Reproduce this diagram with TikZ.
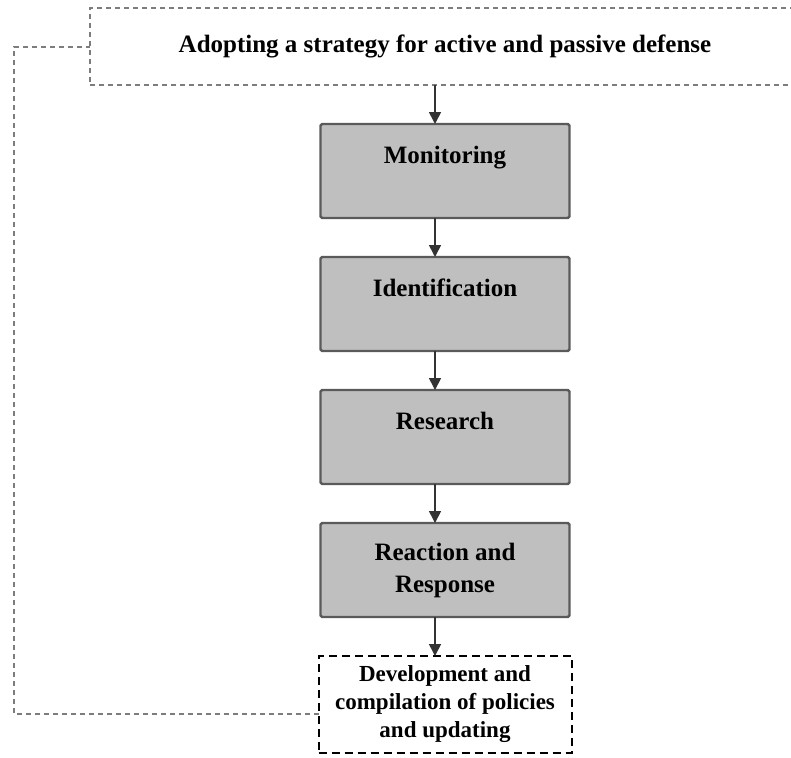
\documentclass[tikz,border=0pt]{standalone}
\usepackage{fontspec}
\setmainfont{Liberation Serif}
\usetikzlibrary{positioning,arrows.meta}

\definecolor{boxgray}{RGB}{191,191,191}
\definecolor{edgegray}{RGB}{90,90,90}
\definecolor{dashgray}{RGB}{125,125,125}

\tikzset{
  stage/.style={rectangle, draw=edgegray, line width=1.2pt, fill=boxgray, rounded corners=0.8pt, outer sep=0pt, text centered, align=center, minimum width=124.5pt, minimum height=47pt, font=\bfseries\fontsize{12.5}{16}\selectfont},
  outlined/.style={draw=dashgray, line width=1pt, dash pattern=on 2.5pt off 2pt},
  flow/.style={->, line width=0.8pt, draw=black!80}
}

\begin{document}
\begin{tikzpicture}[x=0.5pt, y=0.5pt, node distance=19.5pt, >={Triangle[length=6pt,width=6pt]}]

    \useasboundingbox (0,0) rectangle (791,-757);
    \clip (0,0) rectangle (791,-757);

    % Strategy box at the top (runs past the right edge)
    \node (strategy) [rectangle, outlined, outer sep=0pt, minimum width=355pt, minimum height=38.5pt, font=\bfseries\fontsize{12.5}{16}\selectfont] at (445,-46.5) {\raisebox{3.25pt}{Adopting a strategy for active and passive defense}};

    % The four stages
    \node (monitor) [stage, below=of strategy] {Monitoring\\\mbox{}};
    \node (ident) [stage, below=of monitor] {Identification\\\mbox{}};
    \node (research) [stage, below=of ident] {Research\\\mbox{}};
    \node (react) [stage, below=of research] {Reaction and\\Response};

    % Policy box at the bottom
    \node (policy) [rectangle, draw, line width=1pt, dash pattern=on 4pt off 2.5pt, outer sep=0pt, below=of react, align=center, minimum width=126.5pt, minimum height=48.5pt, font=\bfseries\fontsize{11.5}{14}\selectfont] {Development and\\compilation of policies\\and updating};

    % Arrows down the column
    \coordinate (spine) at (435,0);
    \draw[flow] (strategy.south -| spine) -- (monitor.north -| spine);
    \draw[flow] (monitor.south -| spine) -- (ident.north -| spine);
    \draw[flow] (ident.south -| spine) -- (research.north -| spine);
    \draw[flow] (research.south -| spine) -- (react.north -| spine);
    \draw[flow] (react.south -| spine) -- (policy.north -| spine);

    % Feedback line back to the strategy
    \coordinate (rail) at (14,-400);
    \draw[outlined] ([yshift=-4.75pt]policy.west) -| (rail) |- (strategy.west);

\end{tikzpicture}
\end{document}
